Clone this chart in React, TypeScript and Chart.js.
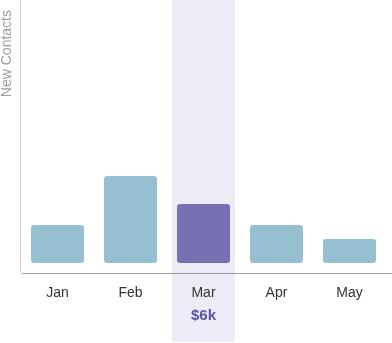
import React, { useEffect, useRef } from "react";
import { Chart, registerables } from "chart.js";

Chart.register(...registerables);

const months = ["Jan", "Feb", "Mar", "Apr", "May"];
const newContacts = [38, 87, 59, 38, 24];
const highlightIndex = 2;
const highlightValueLabel = "$6k";
const axisTitle = "New Contacts";

const BAR_BLUE = "#96c0d2";
const BAR_PURPLE = "#7771b4";
const BAND = "#edebf6";
const FONT = "'Liberation Sans', Arial, Helvetica, sans-serif";

function roundRectPath(ctx: CanvasRenderingContext2D, x: number, y: number, w: number, h: number, r: number) {
  ctx.beginPath();
  ctx.moveTo(x, y);
  ctx.lineTo(x + w, y);
  ctx.lineTo(x + w, y + h - r);
  ctx.quadraticCurveTo(x + w, y + h, x + w - r, y + h);
  ctx.lineTo(x + r, y + h);
  ctx.quadraticCurveTo(x, y + h, x, y + h - r);
  ctx.closePath();
}

const decorPlugin = {
  id: "decor",
  beforeDraw(chart: any) {
    const { ctx, chartArea, scales } = chart;
    const x = scales.x;
    const catW = (chartArea.right - chartArea.left) / months.length;
    const cx = x.getPixelForValue(highlightIndex);
    const bw = catW * 0.863;
    ctx.save();
    ctx.fillStyle = BAND;
    roundRectPath(ctx, cx - bw / 2, 0, bw, chart.height - 1, 3);
    ctx.fill();
    ctx.restore();
  },
  afterDatasetsDraw(chart: any) {
    const { ctx, chartArea, scales } = chart;
    const left = chartArea.left - 0.5;
    const bottom = chartArea.bottom + 0.5;
    ctx.save();
    ctx.lineWidth = 1;
    // y axis line
    ctx.strokeStyle = "#cbcbcb";
    ctx.beginPath();
    ctx.moveTo(left, 0);
    ctx.lineTo(left, bottom - 2);
    ctx.quadraticCurveTo(left, bottom, left + 2, bottom);
    ctx.stroke();
    // x axis line
    ctx.strokeStyle = "#9a9a9a";
    ctx.beginPath();
    ctx.moveTo(left + 2, bottom);
    ctx.lineTo(chart.width, bottom);
    ctx.stroke();
    // highlight value label
    const cx = scales.x.getPixelForValue(highlightIndex);
    ctx.fillStyle = "#5b53a8";
    ctx.font = `bold 15px ${FONT}`;
    ctx.textAlign = "center";
    ctx.textBaseline = "middle";
    ctx.fillText(highlightValueLabel, cx, 316);
    ctx.restore();
  },
};

export default function App() {
  const ref = useRef<HTMLCanvasElement | null>(null);
  useEffect(() => {
    document.body.style.margin = "0";
    const chart = new Chart(ref.current as HTMLCanvasElement, {
      type: "bar",
      data: {
        labels: months,
        datasets: [
          {
            data: newContacts,
            backgroundColor: newContacts.map((_, i) => (i === highlightIndex ? BAR_PURPLE : BAR_BLUE)),
            borderRadius: 3,
            borderSkipped: false,
            categoryPercentage: 1,
            barPercentage: 0.726,
          },
        ],
      },
      options: {
        animation: false,
        responsive: false,
        maintainAspectRatio: false,
        layout: { padding: { left: 0, right: 6, top: 10, bottom: 0 } },
        plugins: { legend: { display: false }, tooltip: { enabled: false } },
        scales: {
          x: {
            grid: { display: false, drawTicks: false },
            border: { display: false },
            ticks: { color: "#333", font: { family: FONT, size: 14 }, padding: 12, autoSkip: false },
            afterFit: (s: any) => {
              s.height = 70;
            },
          },
          y: {
            min: -10,
            max: 253,
            grid: { display: false, drawTicks: false },
            border: { display: false },
            ticks: { display: false },
            title: {
              display: true,
              text: axisTitle,
              align: "end",
              color: "#9c9c9c",
              font: { family: FONT, size: 14, lineHeight: 1 },
              padding: { top: 0, bottom: 0 },
            },
            afterFit: (s: any) => {
              s.width = 21;
            },
          },
        },
      },
      plugins: [decorPlugin],
    });
    return () => chart.destroy();
  }, []);
  return (
    <div style={{ position: "fixed", left: 0, top: 0, width: 392, height: 343 }}>
      <canvas ref={ref} width={392} height={343} style={{ display: "block" }} />
    </div>
  );
}
